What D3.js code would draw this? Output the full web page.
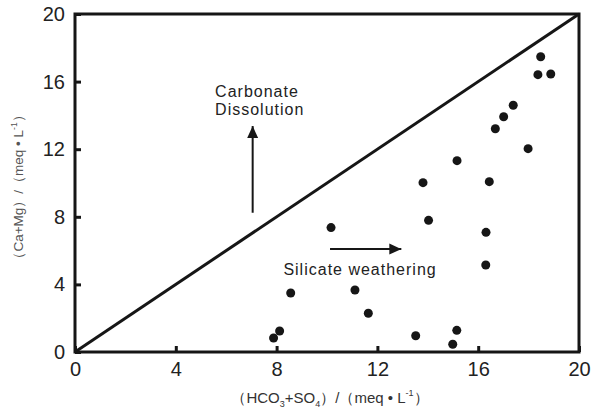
<!DOCTYPE html>
<html><head><meta charset="utf-8">
<script src="https://cdn.jsdelivr.net/npm/d3@7"></script>
<style>body{margin:0;background:#fff}svg{display:block}</style>
</head><body><svg id="c" width="592" height="408"></svg>
<script>
const xTicks = [0, 4, 8, 12, 16, 20];
const yTicks = [0, 4, 8, 12, 16, 20];
const xValues = [7.88, 8.12, 8.56, 10.16, 11.11, 11.64, 13.52, 13.81, 14.03, 14.99, 15.15, 15.16, 16.31, 16.30, 16.44, 16.68, 17.01, 17.39, 17.98, 18.37, 18.48, 18.88];
const yValues = [0.83, 1.24, 3.49, 7.36, 3.67, 2.29, 0.96, 10.02, 7.79, 0.46, 1.28, 11.32, 7.08, 5.15, 10.08, 13.21, 13.92, 14.60, 12.03, 16.41, 17.47, 16.45];
const refLine = [[0, 0], [20, 20]];
const labelCarbonate = ["Carbonate", "Dissolution"];
const labelSilicate = "Silicate weathering";

const svg = d3.select("#c");
const x = d3.scaleLinear().domain([0, 20]).range([75, 579]);
const y = d3.scaleLinear().domain([0, 20]).range([352, 14]);
const ink = "#161616";
const font = "Liberation Sans, Arial, sans-serif";

// frame
svg.append("rect").attr("x", x(0)).attr("y", y(20))
  .attr("width", x(20) - x(0)).attr("height", y(0) - y(20))
  .attr("fill", "none").attr("stroke", ink).attr("stroke-width", 3);

// axes with inward ticks
const xa = svg.append("g").attr("transform", `translate(0,${y(0)})`)
  .call(d3.axisBottom(x).tickValues(xTicks).tickSizeInner(-6).tickSizeOuter(0).tickPadding(10));
const ya = svg.append("g").attr("transform", `translate(${x(0)},0)`)
  .call(d3.axisLeft(y).tickValues(yTicks).tickSizeInner(-6).tickSizeOuter(0).tickPadding(10));
[xa, ya].forEach(a => {
  a.select(".domain").remove();
  a.selectAll(".tick line").attr("stroke", ink).attr("stroke-width", 3);
  a.selectAll(".tick text").attr("font-family", font)
    .attr("font-size", 20).attr("fill", "#222");
});

// 1:1 line
svg.append("line").attr("x1", x(refLine[0][0])).attr("y1", y(refLine[0][1]))
  .attr("x2", x(refLine[1][0])).attr("y2", y(refLine[1][1]))
  .attr("stroke", ink).attr("stroke-width", 3);

// points
svg.append("g").selectAll("circle").data(xValues.map((v, i) => [v, yValues[i]]))
  .join("circle").attr("cx", d => x(d[0])).attr("cy", d => y(d[1])).attr("r", 4.5).attr("fill", ink);

// arrows
const defs = svg.append("defs");
defs.append("marker").attr("id", "ah").attr("viewBox", "0 0 12 12").attr("refX", 12).attr("refY", 6)
  .attr("markerWidth", 12).attr("markerHeight", 12).attr("markerUnits", "userSpaceOnUse").attr("orient", "auto")
  .append("path").attr("d", "M0,0.5 L12,6 L0,11.5 Z").attr("fill", ink);
// Carbonate arrow (vertical)
svg.append("line").attr("x1", x(7.05)).attr("y1", y(8.24)).attr("x2", x(7.05)).attr("y2", y(13.37))
  .attr("stroke", ink).attr("stroke-width", 2).attr("marker-end", "url(#ah)");
// Silicate arrow (horizontal)
svg.append("line").attr("x1", x(10.12)).attr("y1", y(6.09)).attr("x2", x(12.95)).attr("y2", y(6.09))
  .attr("stroke", ink).attr("stroke-width", 2).attr("marker-end", "url(#ah)");

const txt = svg.append("g").attr("font-family", font).attr("font-size", 16).attr("fill", "#222").attr("letter-spacing", 1);
txt.append("text").attr("x", x(5.56)).attr("y", y(15.1)).text(labelCarbonate[0]);
txt.append("text").attr("x", x(5.56)).attr("y", y(14.02)).text(labelCarbonate[1]);
txt.append("text").attr("x", x(8.27)).attr("y", y(4.56)).text(labelSilicate);

// axis titles
const xt = svg.append("text").attr("x", 330).attr("y", 403).attr("text-anchor", "middle")
  .attr("font-family", font).attr("font-size", 15).attr("fill", "#333");
xt.append("tspan").text("（HCO");
xt.append("tspan").attr("font-size", 9).attr("dy", 4).text("3");
xt.append("tspan").attr("dy", -4).text("+SO");
xt.append("tspan").attr("font-size", 9).attr("dy", 4).text("4");
xt.append("tspan").attr("dy", -4).text("）/（meq • L");
xt.append("tspan").attr("font-size", 9).attr("dy", -7).text("-1");
xt.append("tspan").attr("dy", 7).text("）");

const yt = svg.append("text").attr("transform", `translate(23,${(y(0) + y(20)) / 2 + 4}) rotate(-90)`)
  .attr("text-anchor", "middle").attr("font-family", font)
  .attr("font-size", 13.5).attr("fill", "#555");
yt.append("tspan").text("（Ca+Mg）/（meq • L");
yt.append("tspan").attr("font-size", 8.5).attr("dy", -6).text("-1");
yt.append("tspan").attr("dy", 6).text("）");
</script></body></html>
